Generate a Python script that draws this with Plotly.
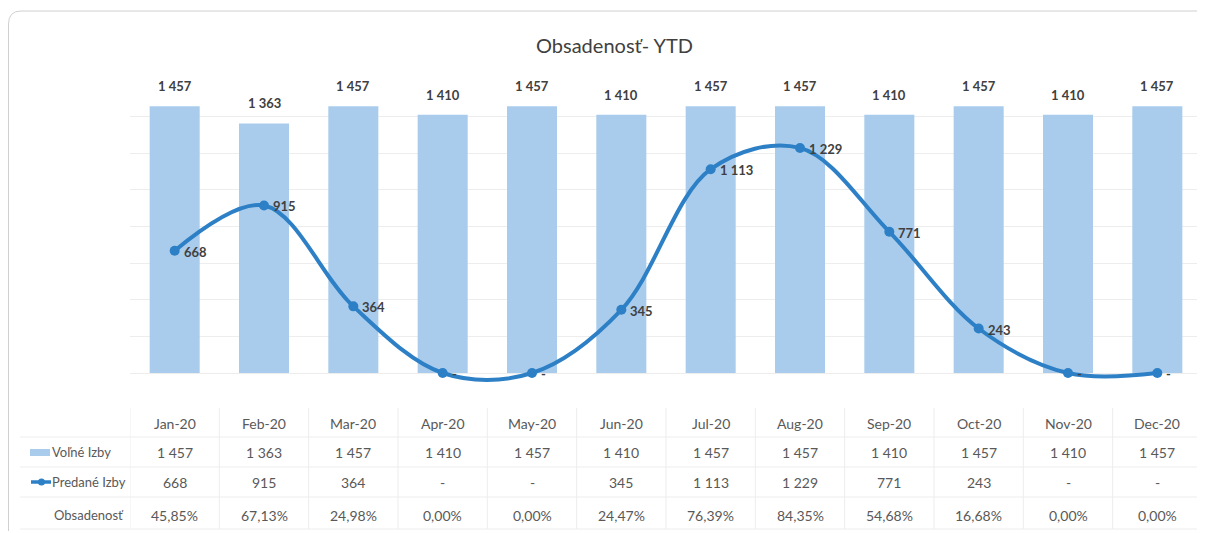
import plotly.graph_objects as go

months = ["Jan-20", "Feb-20", "Mar-20", "Apr-20", "May-20", "Jun-20",
          "Jul-20", "Aug-20", "Sep-20", "Oct-20", "Nov-20", "Dec-20"]
volne_izby = [1457, 1363, 1457, 1410, 1457, 1410, 1457, 1457, 1410, 1457, 1410, 1457]
predane_izby = [668, 915, 364, 0, 0, 345, 1113, 1229, 771, 243, 0, 0]
obsadenost = [45.85, 67.13, 24.98, 0.00, 0.00, 24.47, 76.39, 84.35, 54.68, 16.68, 0.00, 0.00]

title_text = "Obsadenosť- YTD"
row_labels = ["Voľné Izby", "Predané Izby", "Obsadenosť"]

# browser body margin compensation
OFF = 8
W, H = 1205 - OFF, 533 - OFF
# plot area in reference pixel coords
P_LEFT, P_RIGHT, P_TOP, P_BOTTOM = 130, 1202, 80, 384
ML = P_LEFT - OFF
MR = W - (P_RIGHT - OFF)
MT = P_TOP - OFF
MB = H - (P_BOTTOM - OFF)
PW = P_RIGHT - P_LEFT
PH = P_BOTTOM - P_TOP

FONT = "Lato, Carlito, Calibri, sans-serif"
BAR_COLOR = "#A9CCEC"
LINE_COLOR = "#2D80C6"
TXT_DARK = "#404040"
TXT_TABLE = "#595959"
GRID = "#EDEDED"


def fmt_int(v):
    if v == 0:
        return "-"
    return f"{v:,}".replace(",", " ")


def fmt_pct(v):
    return f"{v:.2f}%".replace(".", ",")


def px_x(px):
    return (px - P_LEFT) / PW


def px_y(py):
    return (P_BOTTOM - py) / PH


fig = go.Figure()

fig.add_trace(go.Bar(
    x=months, y=volne_izby, name=row_labels[0],
    marker=dict(color=BAR_COLOR, line=dict(width=0)),
    width=0.56, showlegend=False, hoverinfo="skip",
))

fig.add_trace(go.Scatter(
    x=months, y=predane_izby, name=row_labels[1], mode="lines+markers",
    line=dict(color=LINE_COLOR, width=4, shape="spline", smoothing=1.0),
    marker=dict(color=LINE_COLOR, size=10),
    showlegend=False, hoverinfo="skip", cliponaxis=False,
))

annotations = []
# bar labels
for m, v in zip(months, volne_izby):
    annotations.append(dict(
        x=m, y=v, xref="x", yref="y", text=f"<b>{fmt_int(v)}</b>", showarrow=False,
        yshift=20, font=dict(family=FONT, size=13, color=TXT_DARK),
    ))
# line labels
for m, v in zip(months, predane_izby):
    annotations.append(dict(
        x=m, y=v, xref="x", yref="y", text=f"<b>{fmt_int(v)}</b>", showarrow=False,
        xanchor="left", yanchor="middle", xshift=7, yshift=-1,
        font=dict(family=FONT, size=13, color=TXT_DARK),
    ))

# data table
row_y = [423, 452, 482, 515]
rows = [months, [fmt_int(v) for v in volne_izby],
        [fmt_int(v) for v in predane_izby], [fmt_pct(v) for v in obsadenost]]
for ry, vals in zip(row_y, rows):
    for m, t in zip(months, vals):
        annotations.append(dict(
            x=m, xref="x", y=px_y(ry), yref="paper", text=t, showarrow=False,
            yanchor="middle", font=dict(family=FONT, size=14, color=TXT_TABLE),
        ))
for ry, lab in zip(row_y[1:], row_labels):
    annotations.append(dict(
        x=px_x(50 if lab != row_labels[2] else 52), xref="paper", y=px_y(ry), yref="paper",
        text=lab, showarrow=False, xanchor="left", yanchor="middle",
        font=dict(family=FONT, size=13, color=TXT_TABLE),
    ))

# title
annotations.append(dict(
    x=px_x(614), xref="paper", y=px_y(45), yref="paper", text=title_text,
    showarrow=False, xanchor="center", yanchor="middle",
    font=dict(family=FONT, size=20, color=TXT_DARK),
))

shapes = []
# table horizontal lines
for ly in [437, 467, 497, 529]:
    shapes.append(dict(type="line", xref="paper", yref="paper",
                       x0=px_x(20), x1=px_x(1202), y0=px_y(ly), y1=px_y(ly),
                       line=dict(color=GRID, width=1)))
# table vertical lines
for i in range(len(months) + 1):
    shapes.append(dict(type="line", xref="x", yref="paper",
                       x0=i - 0.5, x1=i - 0.5, y0=px_y(408), y1=px_y(529),
                       line=dict(color=GRID, width=1)))
# legend keys
shapes.append(dict(type="rect", xref="paper", yref="paper",
                   x0=px_x(30), x1=px_x(50), y0=px_y(456), y1=px_y(449),
                   fillcolor=BAR_COLOR, line=dict(width=0)))
shapes.append(dict(type="line", xref="paper", yref="paper",
                   x0=px_x(31), x1=px_x(51), y0=px_y(482), y1=px_y(482),
                   line=dict(color=LINE_COLOR, width=3.5)))
shapes.append(dict(type="circle", xref="paper", yref="paper",
                   x0=px_x(38), x1=px_x(45), y0=px_y(485.5), y1=px_y(478.5),
                   fillcolor=LINE_COLOR, line=dict(width=0)))
# outer border
shapes.append(dict(type="path", xref="paper", yref="paper",
                   path=(f"M {px_x(8.5)} {px_y(531)} L {px_x(8.5)} {px_y(24)} "
                         f"Q {px_x(8.5)} {px_y(11)} {px_x(21)} {px_y(11)} "
                         f"L {px_x(1210)} {px_y(11)}"),
                   line=dict(color="#D0D0D0", width=1)))

fig.update_layout(
    width=W, height=H,
    margin=dict(l=ML, r=MR, t=MT, b=MB),
    paper_bgcolor="white", plot_bgcolor="white",
    xaxis=dict(type="category", showticklabels=False, showgrid=False,
               zeroline=False, showline=False, ticks="",
               range=[-0.5, len(months) - 0.5]),
    yaxis=dict(range=[-60, 1600], tick0=0, dtick=200, showticklabels=False,
               showgrid=True, gridcolor=GRID, gridwidth=1,
               zeroline=False, showline=False, ticks=""),
    annotations=annotations, shapes=shapes,
    showlegend=False,
)

fig.write_html("out.html")
